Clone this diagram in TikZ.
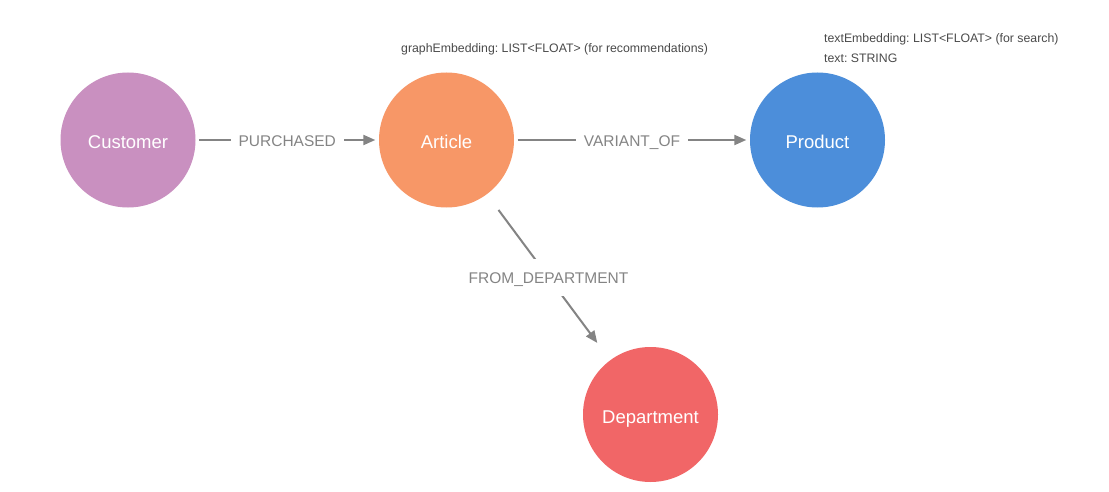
\documentclass[tikz,border=0pt]{standalone}
\usepackage{fontspec}
\setmainfont{Liberation Sans}
\usetikzlibrary{arrows.meta}
\frenchspacing
\definecolor{cCust}{HTML}{C990C0}
\definecolor{cArt}{HTML}{F79767}
\definecolor{cProd}{HTML}{4C8EDA}
\definecolor{cDept}{HTML}{F16667}
\definecolor{cEdge}{HTML}{848484}
\definecolor{cProp}{HTML}{4A4A4A}
\tikzset{
  ent/.style={circle, minimum size=135pt, inner sep=0pt, text=white,
    text height=17pt, text depth=0pt,
    font=\fontsize{18.5}{22}\selectfont},
  rel/.style={cEdge, line width=2pt, -{Triangle[length=12pt,width=10pt]}},
  rellbl/.style={fill=white, text=cEdge, inner xsep=8pt, inner ysep=12pt,
    text height=13pt, text depth=0pt,
    font=\fontsize{15.5}{18}\selectfont},
  prop/.style={anchor=base west, inner sep=0pt, text=cProp,
    font=\fontsize{12.3}{14}\selectfont}
}
\begin{document}
\begin{tikzpicture}[x=1pt,y=-1pt]
\useasboundingbox[fill=white] (0,0) rectangle (1109,492);
\node[ent, fill=cCust] (cust) at (128,140) {Customer};
\node[ent, fill=cArt] (art) at (446.5,140) {Article};
\node[ent, fill=cProd] (prod) at (817.5,140) {Product};
\node[ent, fill=cDept] (dept) at (650.5,414.5) {Department};
\draw[rel, shorten <=3.5pt, shorten >=3.5pt] (cust) -- node[rellbl] {PURCHASED} (art);
\draw[rel, shorten <=3.5pt, shorten >=3.5pt] (art) -- node[rellbl] {VARIANT\_OF} (prod);
\draw[rel, shorten <=19.5pt, shorten >=21.5pt] (art) -- node[rellbl] {FROM\_DEPARTMENT} (dept);
\node[prop] (pg) at (401,52.3) {graphEmbedding: LIST<FLOAT> (for recommendations)};
\node[prop] (pt1) at (824,42.3) {textEmbedding: LIST<FLOAT> (for search)};
\node[prop] (pt2) at (824,62.3) {text: STRING};
\end{tikzpicture}
\end{document}
